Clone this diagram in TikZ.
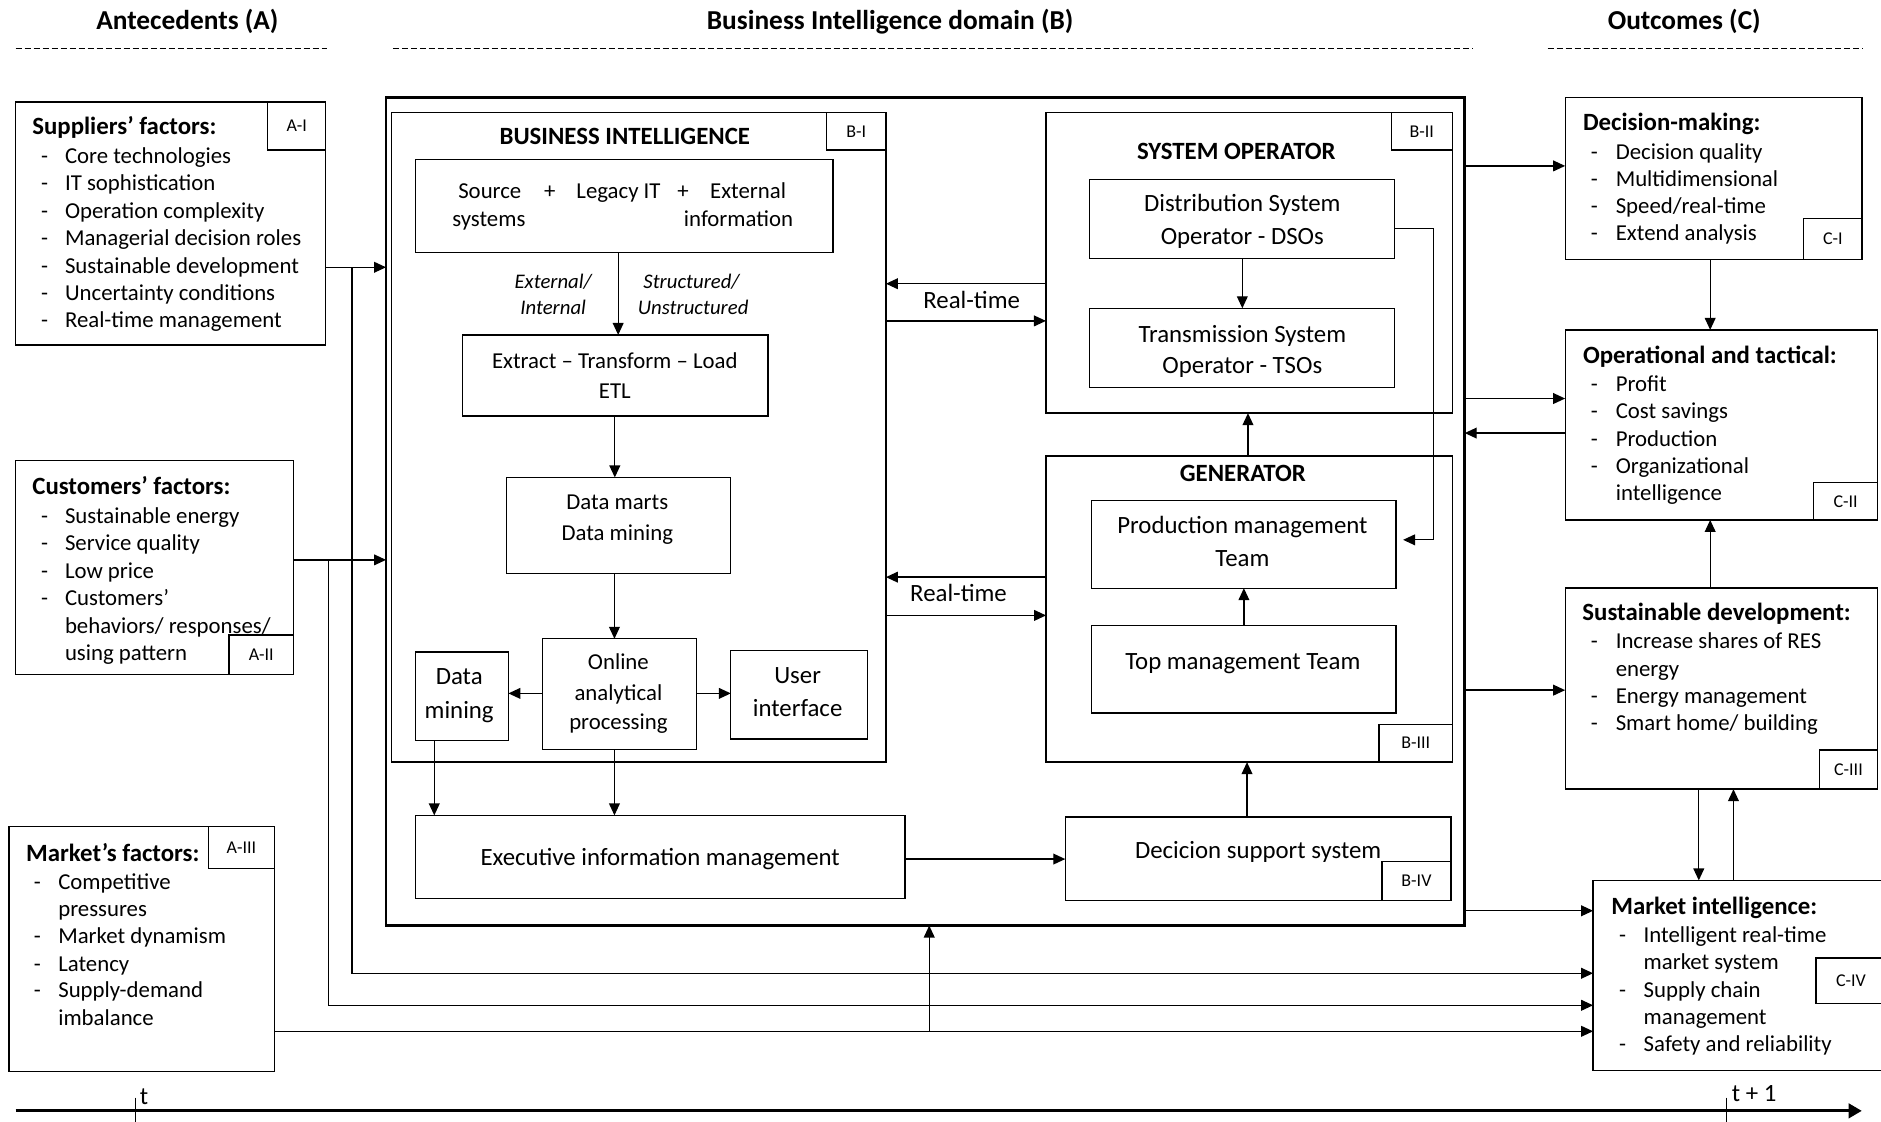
\documentclass[tikz,border=0pt]{standalone}
\usepackage{fontspec}
\setmainfont{Carlito}
\usetikzlibrary{arrows.meta}

% type sizes
\newcommand\xbody{\fontsize{19}{23}\selectfont}
\newcommand\xbig{\fontsize{20.7}{25}\selectfont}
\newcommand\xhead{\fontsize{22.8}{27}\selectfont\bfseries}
\newcommand\xtag{\fontsize{15}{18}\selectfont}
\newcommand\xital{\fontsize{17.3}{21}\selectfont\itshape}

% empty rectangle from its corners: [style]{name}{x1}{y1}{x2}{y2}
\newcommand\bx[6][]{%
  \pgfmathsetmacro\mybw{#5-#3}\pgfmathsetmacro\mybh{#6-#4}%
  \node[box,#1,minimum width=\mybw pt,minimum height=\mybh pt] (#2) at ({(#3+#5)/2},{(#4+#6)/2}) {};}
% small corner tag with its label: {name}{x1}{y1}{x2}{y2}{label}
\newcommand\tagat[6]{%
  \pgfmathsetmacro\mybw{#4-#2}\pgfmathsetmacro\mybh{#5-#3}%
  \node[tagb,minimum width=\mybw pt,minimum height=\mybh pt] (#1) at ({(#2+#4)/2},{(#3+#5)/2}) {#6};}
% one line of a dashed list: {name}{dash x}{text x}{y}{text}
\newcommand\litem[5]{%
  \node[lst] (#1d) at (#2,#4) {-};
  \node[lst] (#1) at (#3,#4) {#5};}

\begin{document}
\begin{tikzpicture}[x=1pt,y=-1pt,
  box/.style={draw,line width=1.1pt,inner sep=0pt,outer sep=0pt},
  tagb/.style={draw,line width=1.1pt,inner sep=0pt,outer sep=0pt,font=\xtag},
  ln/.style={line width=1.1pt},
  arr/.style={line width=1.1pt,-{Triangle[length=10pt,width=9pt]}},
  dashln/.style={line width=0.8pt,dash pattern=on 5pt off 2.5pt},
  txtbase/.style={inner sep=0pt,yshift=-4.5pt},
  head/.style={txtbase,anchor=mid,font=\xhead},
  t19/.style={txtbase,anchor=mid,font=\xbody},
  t21/.style={txtbase,anchor=mid,font=\xbig},
  b21/.style={txtbase,anchor=mid,font=\xbig\bfseries},
  ital/.style={txtbase,anchor=mid,font=\xital},
  lst/.style={txtbase,anchor=mid west,font=\xbody},
  lsttitle/.style={txtbase,anchor=mid west,font=\xbig\bfseries},
]
\useasboundingbox (0,0) rectangle (1568,935);

% ---------- column headings ----------
\node[head] (hA) at (156.2,17.8) {Antecedents (A)};
\node[head] (hB) at (742,17.8) {Business Intelligence domain (B)};
\node[head] (hC) at (1404,17.8) {Outcomes (C)};
\draw[dashln] (13,40) -- (273.4,40);
\draw[dashln] (327.4,40) -- (1228,40);
\draw[dashln] (1290,40) -- (1552.8,40);

% ---------- antecedents ----------
\bx{ai}{13}{85}{271.5}{287.5}
\tagat{aitag}{223.2}{85}{271.5}{125}{A-I}
\node[lsttitle] (aiT) at (26.8,105.6) {Suppliers’ factors:};
\litem{ai1}{34}{54}{129.2}{Core technologies}
\litem{ai2}{34}{54}{152.2}{IT sophistication}
\litem{ai3}{34}{54}{175}{Operation complexity}
\litem{ai4}{34}{54}{197.9}{Managerial decision roles}
\litem{ai5}{34}{54}{220.8}{Sustainable development}
\litem{ai6}{34}{54}{243.6}{Uncertainty conditions}
\litem{ai7}{34}{54}{266.4}{Real-time management}

\bx{aii}{13}{384}{244.8}{562.5}
\tagat{aiitag}{190.8}{529.2}{244.8}{562.5}{A-II}
\node[lsttitle] (aiiT) at (26.8,405.6) {Customers’ factors:};
\litem{aii1}{34}{54}{429.2}{Sustainable energy}
\litem{aii2}{34}{54}{452}{Service quality}
\litem{aii3}{34}{54}{475}{Low price}
\litem{aii4}{34}{54}{497.8}{Customers’}
\node[lst] (aii4b) at (54,520.8) {behaviors/ responses/};
\node[lst] (aii4c) at (54,543.6) {using pattern};

\bx{aiii}{7.4}{688.9}{228.8}{893}
\tagat{aiiitag}{173.7}{688.9}{228.8}{724.2}{A-III}
\node[lsttitle] (aiiiT) at (21.6,711) {Market’s factors:};
\litem{aiii1}{28}{48.4}{734.7}{Competitive}
\node[lst] (aiii1b) at (48.4,757.5) {pressures};
\litem{aiii2}{28}{48.4}{779.7}{Market dynamism}
\litem{aiii3}{28}{48.4}{802.8}{Latency}
\litem{aiii4}{28}{48.4}{825}{Supply-demand}
\node[lst] (aiii4b) at (48.4,847.8) {imbalance};

% ---------- business intelligence domain ----------
\bx[line width=2.4pt]{B}{321.8}{81.5}{1221}{771.5}

% B-I
\bx{bi}{326.6}{94}{738.5}{635.3}
\tagat{bitag}{689}{94}{738.5}{125}{B-I}
\node[b21] (biT) at (520.8,113.9) {BUSINESS INTELLIGENCE};
\bx{src}{346.4}{132.8}{694.4}{210.3}
\node[t19] (s1) at (408.3,158.3) {Source};
\node[t19] (s2) at (458.3,158.3) {+};
\node[t19] (s3) at (515.6,158.3) {Legacy IT};
\node[t19] (s4) at (569.4,158.3) {+};
\node[t19] (s5) at (623.6,158.3) {External};
\node[t19] (s6) at (407.5,182) {systems};
\node[t19] (s7) at (615.6,182) {information};
\node[ital] (l1) at (461.1,233.9) {External/};
\node[ital] (l2) at (461.1,255.6) {Internal};
\node[ital] (l3) at (576.4,233.9) {Structured/};
\node[ital] (l4) at (577.8,255.6) {Unstructured};
\bx{etl}{385.6}{279.2}{640.3}{346.7}
\node[t19] (etl1) at (512.5,300) {Extract – Transform – Load};
\node[t19] (etl2) at (512.5,325) {ETL};
\bx{dmarts}{422.3}{398}{609.2}{477.8}
\node[t19] (dm1) at (514.6,417.5) {Data marts};
\node[t19] (dm2) at (514.6,443.9) {Data mining};
\bx{olap}{452}{532.5}{580.4}{625}
\node[t19] (ol1) at (515.5,551.4) {Online};
\node[t19] (ol2) at (515.5,577) {analytical};
\node[t19] (ol3) at (515.5,601.4) {processing};
\bx{dmin}{346.4}{543.6}{423.8}{617.5}
\node[t21] (dn1) at (382.8,563.9) {Data};
\node[t21] (dn2) at (382.8,591.7) {mining};
\bx{ui}{609.2}{542.5}{722.9}{616.1}
\node[t21] (ui1) at (664.9,562.5) {User};
\node[t21] (ui2) at (664.9,590.3) {interface};
\bx{eim}{346.4}{679.7}{754.5}{749.2}
\node[t21] (eim1) at (550.3,714.4) {Executive information management};

% B-II
\bx{bii}{871.9}{94}{1210.6}{344.4}
\tagat{biitag}{1159.7}{94}{1210.6}{125}{B-II}
\node[b21] (biiT) at (1030.6,126.4) {SYSTEM OPERATOR};
\bx{dso}{908.3}{149.4}{1162.5}{215.3}
\node[t21] (dso1) at (1035.6,169.4) {Distribution System};
\node[t21] (dso2) at (1035.6,197.2) {Operator - DSOs};
\bx{tso}{908.3}{257}{1162.5}{322.8}
\node[t21] (tso1) at (1035.6,278.6) {Transmission System};
\node[t21] (tso2) at (1035.6,304.2) {Operator - TSOs};

% B-III
\bx{biii}{872}{380}{1210.8}{635.3}
\tagat{biiitag}{1149.5}{603.7}{1210.8}{635.3}{B-III}
\node[b21] (biiiT) at (1036,394.4) {GENERATOR};
\bx{prod}{909.7}{417.2}{1163.8}{490.3}
\node[t21] (pr1) at (1035.7,437.5) {Production management};
\node[t21] (pr2) at (1035.7,465.3) {Team};
\bx{topm}{909.7}{521.4}{1163.8}{594.4}
\node[t21] (tp1) at (1036,551.4) {Top management Team};

% B-IV
\bx{dss}{888}{681}{1209.5}{750.6}
\node[t21] (dss1) at (1048.8,708.9) {Decicion support system};
\tagat{bivtag}{1152}{718}{1209.5}{750.6}{B-IV}

\node[t21] (rt1) at (810,250.5) {Real-time};
\node[t21] (rt2) at (799,494.4) {Real-time};

% ---------- outcomes ----------
\bx{ci}{1304.7}{81.2}{1552.2}{216.1}
\tagat{citag}{1503.6}{182.3}{1552.2}{216.1}{C-I}
\node[lsttitle] (ciT) at (1319.4,101.9) {Decision-making:};
\litem{ci1}{1326}{1346.7}{125.7}{Decision quality}
\litem{ci2}{1326}{1346.7}{148.4}{Multidimensional}
\litem{ci3}{1326}{1346.7}{171.3}{Speed/real-time}
\litem{ci4}{1326}{1346.7}{194}{Extend analysis}

\bx{cii}{1304.7}{275}{1565.3}{433.4}
\tagat{ciitag}{1511.7}{402.4}{1565.3}{433.4}{C-II}
\node[lsttitle] (ciiT) at (1319.4,296.2) {Operational and tactical:};
\litem{cii1}{1326}{1346.7}{319.2}{Profit}
\litem{cii2}{1326}{1346.7}{342.1}{Cost savings}
\litem{cii3}{1326}{1346.7}{365}{Production}
\litem{cii4}{1326}{1346.7}{388}{Organizational}
\node[lst] (cii4b) at (1346.7,410.4) {intelligence};

\bx{ciii}{1304.7}{490.2}{1565}{657.8}
\tagat{ciiitag}{1516.7}{625.3}{1565}{657.8}{C-III}
\node[lsttitle] (ciiiT) at (1318.9,510.3) {Sustainable development:};
\litem{ciii1}{1326}{1346.7}{533.5}{Increase shares of RES}
\node[lst] (ciii1b) at (1346.7,556.7) {energy};
\litem{ciii2}{1326}{1346.7}{579.3}{Energy management}
\litem{ciii3}{1326}{1346.7}{602.2}{Smart home/ building}

\bx{civ}{1328}{733.9}{1572}{892.2}
\tagat{civtag}{1513.9}{798.5}{1572}{836.6}{C-IV}
\node[lsttitle] (civT) at (1343,755.6) {Market intelligence:};
\litem{civ1}{1349.5}{1370}{778.4}{Intelligent real-time}
\node[lst] (civ1b) at (1370,801.6) {market system};
\litem{civ2}{1349.5}{1370}{824.2}{Supply chain}
\node[lst] (civ2b) at (1370,846.8) {management};
\litem{civ3}{1349.5}{1370}{869.7}{Safety and reliability}

% ---------- connectors inside B-I ----------
\draw[arr] (src.south -| 515.3,0) -- (etl.north -| 515.3,0);
\draw[arr] (etl.south -| 512.5,0) -- (dmarts.north -| 512.5,0);
\draw[arr] (dmarts.south -| 512.2,0) -- (olap.north -| 512.2,0);
\draw[arr] (olap.west |- 0,578) -- (dmin.east |- 0,578);
\draw[arr] (olap.east |- 0,578) -- (ui.west |- 0,578);
\draw[arr] (dmin.south -| 362,0) -- (eim.north -| 362,0);
\draw[arr] (olap.south -| 512.2,0) -- (eim.north -| 512.2,0);
\draw[arr] (eim.east |- 0,716.1) -- (dss.west |- 0,716.1);

% ---------- connectors in B-II, B-III, B-IV ----------
\draw[arr] (dso.south -| 1035.6,0) -- (tso.north -| 1035.6,0);
\draw[arr] (topm.north -| 1036.9,0) -- (prod.south -| 1036.9,0);
\draw[arr] (dss.north -| 1039.5,0) -- (biii.south -| 1039.5,0);
\draw[arr] (biii.north -| 1040.3,0) -- (bii.south -| 1040.3,0);
\draw[arr,shorten >=5.8pt] (dso.east |- 0,190.3) -| (1194.8,450) -- (prod.east |- 0,450);

% real-time links
\draw[arr] (bii.west |- 0,236.5) -- (bi.east |- 0,236.5);
\draw[arr] (bi.east |- 0,267.5) -- (bii.west |- 0,267.5);
\draw[arr] (biii.west |- 0,481.1) -- (bi.east |- 0,481.1);
\draw[arr] (bi.east |- 0,513) -- (biii.west |- 0,513);

% ---------- antecedents to domain and outcomes ----------
\draw[arr] (ai.east |- 0,222.8) -- (B.west |- 0,222.8);
\draw[arr] (ai.east |- 0,222.8) -| (293.3,811.3) -- (civ.west |- 0,811.3);
\draw[arr] (aii.east |- 0,466.7) -- (B.west |- 0,466.7);
\draw[arr] (aii.east |- 0,466.7) -| (273.6,838) -- (civ.west |- 0,838);
\draw[arr] (aiii.east |- 0,859.7) -- (civ.west |- 0,859.7);
\draw[arr] (aiii.east |- 0,859.7) -| (B.south -| 774.6,0);

% ---------- domain to outcomes ----------
\draw[arr] (B.east |- 0,138.3) -- (ci.west |- 0,138.3);
\draw[arr] (B.east |- 0,332.2) -- (cii.west |- 0,332.2);
\draw[arr] (cii.west |- 0,361) -- (B.east |- 0,361);
\draw[arr] (B.east |- 0,575.3) -- (ciii.west |- 0,575.3);
\draw[arr] (B.east |- 0,759.2) -- (civ.west |- 0,759.2);

% ---------- between outcomes ----------
\draw[arr] (ci.south -| 1425.6,0) -- (cii.north -| 1425.6,0);
\draw[arr] (ciii.north -| 1425.6,0) -- (cii.south -| 1425.6,0);
\draw[arr] (ciii.south -| 1416.1,0) -- (civ.north -| 1416.1,0);
\draw[arr] (civ.north -| 1445,0) -- (ciii.south -| 1445,0);

% ---------- time axis ----------
\coordinate (tl0) at (13,926);
\coordinate (tl1) at (1552,926);
\draw[line width=2.5pt,-{Triangle[length=11pt,width=12pt]}] (tl0) -- (tl1);
\draw[line width=1pt] (112.7,915) -- (112.7,936);
\draw[line width=1pt] (1439.4,915) -- (1439.4,936);
\node[inner sep=0pt,anchor=base west,font=\xbig] (tt) at (116.5,920.5) {t};
\node[inner sep=0pt,anchor=base west,font=\xbig] (tt1) at (1443.5,918.5) {t + 1};
\end{tikzpicture}
\end{document}
